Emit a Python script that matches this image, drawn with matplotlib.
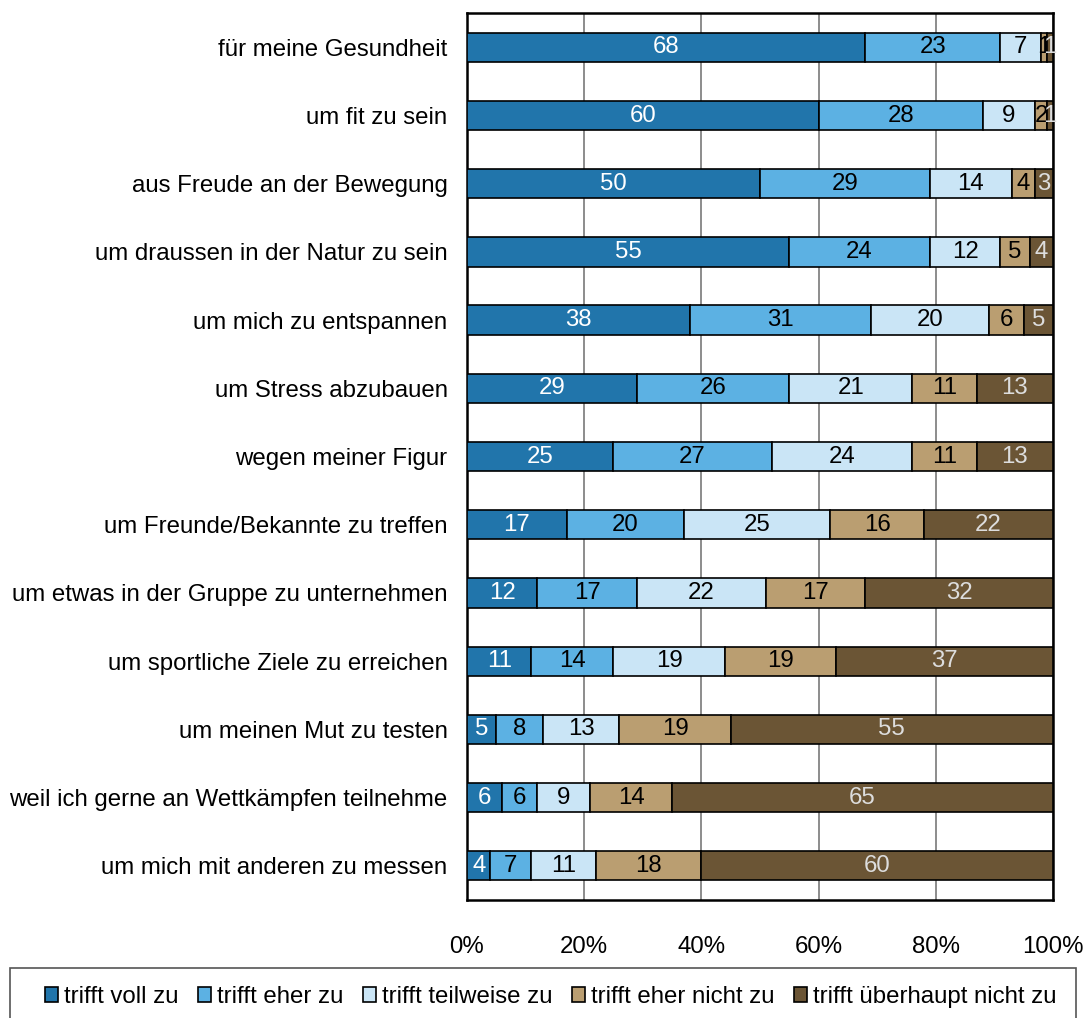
import matplotlib.pyplot as plt
from matplotlib.patches import Rectangle
import numpy as np

plt.rcParams["font.family"] = ["Liberation Sans", "DejaVu Sans"]

categories = [
    "für meine Gesundheit",
    "um fit zu sein",
    "aus Freude an der Bewegung",
    "um draussen in der Natur zu sein",
    "um mich zu entspannen",
    "um Stress abzubauen",
    "wegen meiner Figur",
    "um Freunde/Bekannte zu treffen",
    "um etwas in der Gruppe zu unternehmen",
    "um sportliche Ziele zu erreichen",
    "um meinen Mut zu testen",
    "weil ich gerne an Wettkämpfen teilnehme",
    "um mich mit anderen zu messen",
]

series_names = [
    "trifft voll zu",
    "trifft eher zu",
    "trifft teilweise zu",
    "trifft eher nicht zu",
    "trifft überhaupt nicht zu",
]

voll_zu = [68, 60, 50, 55, 38, 29, 25, 17, 12, 11, 5, 6, 4]
eher_zu = [23, 28, 29, 24, 31, 26, 27, 20, 17, 14, 8, 6, 7]
teilweise = [7, 9, 14, 12, 20, 21, 24, 25, 22, 19, 13, 9, 11]
eher_nicht = [1, 2, 4, 5, 6, 11, 11, 16, 17, 19, 19, 14, 18]
ueberhaupt_nicht = [1, 1, 3, 4, 5, 13, 13, 22, 32, 37, 55, 65, 60]

colors = ["#2175ab", "#5cb1e3", "#cae5f6", "#ba9e71", "#6b5535"]
text_colors = ["white", "black", "black", "black", "#dddddd"]

series = [voll_zu, eher_zu, teilweise, eher_nicht, ueberhaupt_nicht]

FS = 17.3

fig = plt.figure(figsize=(10.86, 10.18), dpi=100)
ax = fig.add_axes([0.430, 0.116, 0.5396, 0.871])

y = np.arange(len(categories))
left = np.zeros(len(categories))
for vals, name, col, tcol in zip(series, series_names, colors, text_colors):
    vals = np.array(vals, dtype=float)
    bars = ax.barh(y, vals, left=left, height=0.43, color=col,
                   edgecolor="black", linewidth=1.2, label=name, zorder=3)
    ax.bar_label(bars, labels=[f"{v:.0f}" for v in vals], label_type="center",
                 color=tcol, fontsize=FS, zorder=4)
    left += vals

ax.set_xlim(0, 100)
ax.set_ylim(len(categories) - 0.5, -0.5)
ax.set_yticks(y)
ax.set_yticklabels(categories, fontsize=FS)
ax.set_xticks(range(0, 101, 20))
ax.set_xticklabels([f"{t}%" for t in range(0, 101, 20)], fontsize=FS)
ax.tick_params(axis="y", length=0, pad=14)
ax.tick_params(axis="x", length=0, pad=26)
ax.grid(axis="x", color="#8c8c8c", linewidth=1.4, zorder=0)
for s in ax.spines.values():
    s.set_color("black")
    s.set_linewidth(1.8)

# Rahmen der Legende separat, damit er die ganze Breite abdeckt
fig.patches.append(Rectangle((0.0092, -0.01), 0.9816, 0.059, transform=fig.transFigure,
                             fill=False, edgecolor="#555555", linewidth=1.2))
fig.legend(loc="center", bbox_to_anchor=(0.507, 0.0206), ncol=5,
           fontsize=FS, frameon=False,
           handlelength=0.55, handleheight=0.55, handletextpad=0.25,
           columnspacing=0.8, borderpad=0, borderaxespad=0)

fig.savefig("out.png", dpi=100)
